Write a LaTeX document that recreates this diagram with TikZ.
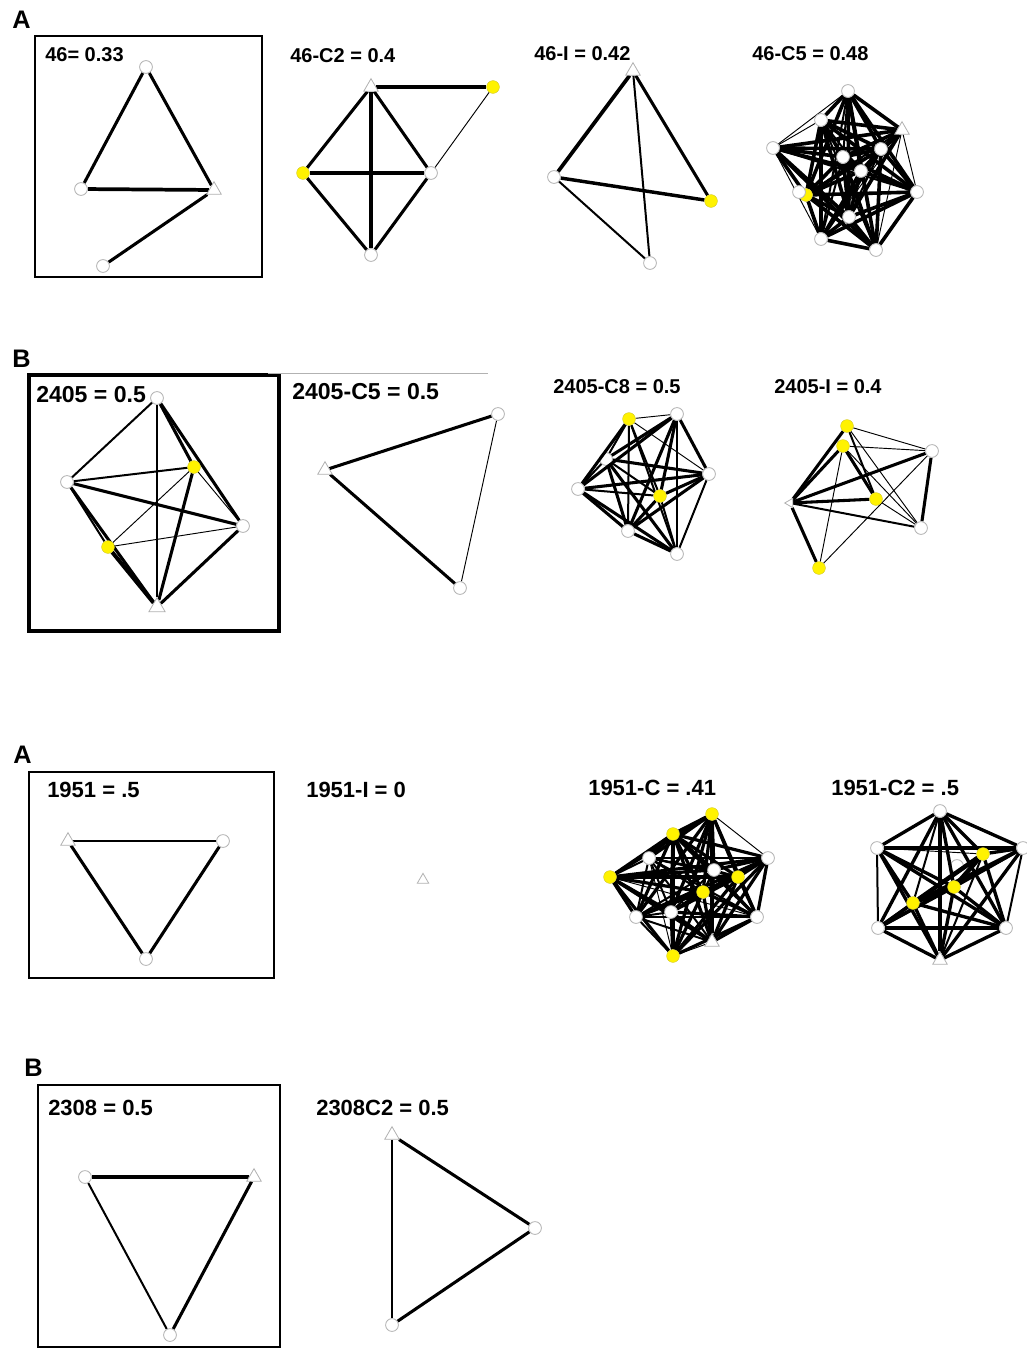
\documentclass[tikz,border=0pt]{standalone}
\usepackage{fontspec}
\setmainfont{Liberation Sans}
\usetikzlibrary{shapes.geometric}
\pgfdeclarelayer{bg}
\pgfsetlayers{bg,main}
\newcommand\setw[3]{\foreach \p in {#2}{\expandafter\xdef\csname ew-#1-\p\endcsname{#3}}}
\newcommand\fullgraph[4]{%
 \foreach \i in {1,...,#2}{\foreach \j in {1,...,#2}{%
  \ifnum\i<\j\relax
   \ifcsname ew-#1-\i-\j\endcsname
     \edef\ww{\csname ew-#1-\i-\j\endcsname}%
   \else
     \pgfmathtruncatemacro\m{mod(\i*7+\j*3,#3)}%
     \ifnum\m=0 \def\ww{1.5}\else\def\ww{#4}\fi
   \fi
   \draw[line width=\ww pt] (#1\i) -- (#1\j);
  \fi}}}
\begin{document}
\begin{tikzpicture}[x=0.75pt,y=-0.75pt,
 wn/.style={circle,draw=gray!60,fill=white,line width=0.6pt,minimum size=9.6pt,inner sep=0pt},
 yn/.style={circle,draw=yellow!80!black,fill=yellow,line width=0.3pt,minimum size=9.6pt,inner sep=0pt},
 tn/.style={regular polygon,regular polygon sides=3,draw=gray!60,fill=white,line width=0.6pt,minimum size=12.5pt,inner sep=0pt},
 ek/.style={line width=2.3pt},
 em/.style={line width=1.5pt},
 en/.style={line width=0.7pt},
 lab/.style={anchor=base west,inner sep=0pt,font=\fontsize{15}{18}\selectfont\bfseries},
 labM/.style={anchor=base west,inner sep=0pt,font=\fontsize{16.5}{19}\selectfont\bfseries},
 labL/.style={anchor=base west,inner sep=0pt,font=\fontsize{17.3}{20}\selectfont\bfseries},
 plet/.style={anchor=base west,inner sep=0pt,font=\fontsize{19}{22}\selectfont\bfseries},
 frame/.style={line width=1.5pt}]
\begin{pgfonlayer}{bg}
\fill[white] (0,0) rectangle (1026,1349);
\end{pgfonlayer}
\useasboundingbox (0,0) rectangle (1026,1349);

% panel letters
\node[plet] (LA1) at (12,28) {A};
\node[plet] (LB1) at (12,367) {B};
\node[plet] (LA2) at (13,763) {A};
\node[plet] (LB2) at (24,1076) {B};

% ---------- 46 = 0.33
\draw[frame] (35,36) rectangle (262,277);
\node[lab] (L1) at (45,61) {46= 0.33};
\node[wn] (a1) at (146,67) {};
\node[wn] (a2) at (81,189) {};
\node[tn] (a3) at (214,190) {};
\node[wn] (a4) at (103,266) {};
\begin{pgfonlayer}{bg}
\draw[ek] (a1) -- (a2);
\draw[ek] (a1) -- (a3);
\draw[line width=2.8pt] (a2) -- (a3);
\draw[ek] (a3) -- (a4);
\end{pgfonlayer}

% ---------- 46-C2 = 0.4
\node[lab] (L2) at (290,62) {46-C2 = 0.4};
\node[tn] (b1) at (371,87) {};
\node[yn] (b2) at (493,87) {};
\node[yn] (b3) at (303,173) {};
\node[wn] (b4) at (431,173) {};
\node[wn] (b5) at (371,255) {};
\begin{pgfonlayer}{bg}
\draw[ek] (b1) -- (b2);
\draw[en] (b2) -- (b4);
\draw[ek] (b1) -- (b3);
\draw[ek] (b1) -- (b4);
\draw[ek] (b1) -- (b5);
\draw[ek] (b3) -- (b4);
\draw[ek] (b3) -- (b5);
\draw[ek] (b4) -- (b5);
\end{pgfonlayer}

% ---------- 46-I = 0.42
\node[lab] (L3) at (534,60) {46-I = 0.42};
\node[tn] (g1) at (633,71) {};
\node[wn] (g2) at (554,177) {};
\node[yn] (g3) at (711,201) {};
\node[wn] (g4) at (650,263) {};
\begin{pgfonlayer}{bg}
\draw[line width=2.8pt] (g1) -- (g2);
\draw[ek] (g1) -- (g3);
\draw[em] (g1) -- (g4);
\draw[line width=2.6pt] (g2) -- (g3);
\draw[em] (g2) -- (g4);
\end{pgfonlayer}

% ---------- 46-C5 = 0.48
\node[lab] (L4) at (752,60) {46-C5 = 0.48};
\node[wn] (d1) at (848,91) {};
\node[wn] (d2) at (821,120) {};
\node[tn] (d3) at (902,130) {};
\node[wn] (d4) at (773,148) {};
\node[wn] (d5) at (881,149) {};
\node[wn] (d6) at (843,157) {};
\node[wn] (d7) at (861,171) {};
\node[yn] (d8) at (806,195) {};
\node[wn] (d9) at (917,192) {};
\node[wn] (d10) at (849,217) {};
\node[wn] (d11) at (821,239) {};
\node[wn] (d12) at (876,250) {};
\node[wn] (d13) at (799,192) {};
\setw{d}{1-4,2-4,4-11,3-9,3-12,3-11}{0.7}
\begin{pgfonlayer}{bg}
\fullgraph{d}{12}{5}{2.7}
\end{pgfonlayer}

% ---------- 2405 = 0.5
\draw[line width=2.3pt] (29,375) rectangle (279,631);
\node[labL] (L5) at (36,402) {2405 = 0.5};
\node[wn] (e1) at (157,398) {};
\node[wn] (e2) at (67,482) {};
\node[yn] (e3) at (194,467) {};
\node[wn] (e4) at (243,526) {};
\node[yn] (e5) at (108,547) {};
\node[tn,minimum size=14pt] (e6) at (157,607) {};
\begin{pgfonlayer}{bg}
\draw[em] (e1) -- (e2);
\draw[em] (e1) -- (e6);
\draw[ek] (e1) -- (e3);
\draw[ek] (e1) -- (e4);
\draw[em] (e2) -- (e3);
\draw[ek] (e2) -- (e4);
\draw[ek] (e2) -- (e6);
\draw[em] (e2) -- (e5);
\draw[line width=3pt] (e5) -- (e6);
\draw[en] (e3) -- (e5);
\draw[en] (e5) -- (e4);
\draw[ek] (e3) -- (e6);
\draw[ek] (e4) -- (e6);
\draw[en] (e3) -- (e4);
\end{pgfonlayer}

% ---------- 2405-C5 = 0.5
\draw[gray!60,line width=0.6pt] (268,373) -- (488,373);
\node[labL] (L6) at (292,399) {2405-C5 = 0.5};
\node[tn] (f1) at (325,470) {};
\node[wn] (f2) at (498,414) {};
\node[wn] (f3) at (460,588) {};
\begin{pgfonlayer}{bg}
\draw[ek] (f1) -- (f2);
\draw[ek] (f1) -- (f3);
\draw[en] (f2) -- (f3);
\end{pgfonlayer}

% ---------- 2405-C8 = 0.5
\node[lab] (L7) at (553,393) {2405-C8 = 0.5};
\node[yn] (h1) at (629,419) {};
\node[wn] (h2) at (677,414) {};
\node[wn] (h4) at (709,474) {};
\node[wn] (h5) at (578,489) {};
\node[yn] (h6) at (660,496) {};
\node[wn] (h7) at (628,531) {};
\node[wn] (h8) at (677,554) {};
\setw{h}{1-2,1-4}{0.7}
\setw{h}{1-3,1-6,1-7,1-8,2-8,3-5,3-6,4-8,6-8,5-6}{1.5}
\begin{pgfonlayer}{bg}
\node[wn] (h3) at (606,459) {};
\fullgraph{h}{8}{100}{2.3}
\end{pgfonlayer}

% ---------- 2405-I = 0.4
\node[lab] (L8) at (774,393) {2405-I = 0.4};
\node[yn] (i1) at (847,426) {};
\node[yn] (i2) at (843,446) {};
\node[wn] (i3) at (932,451) {};
\node[tn,minimum size=8pt,shape border rotate=90] (i4) at (790,503) {};
\node[yn] (i5) at (876,499) {};
\node[wn] (i6) at (921,528) {};
\node[yn] (i7) at (819,568) {};
\begin{pgfonlayer}{bg}
\draw[ek] (i4) -- (i1);
\draw[ek] (i4) -- (i2);
\draw[ek] (i4) -- (i3);
\draw[ek] (i4) -- (i5);
\draw[ek] (i4) -- (i7);
\draw[ek] (i2) -- (i5);
\draw[ek] (i3) -- (i6);
\draw[em] (i4) -- (i6);
\draw[em] (i1) -- (i5);
\draw[en] (i1) -- (i3);
\draw[en] (i1) -- (i6);
\draw[en] (i2) -- (i3);
\draw[en] (i2) -- (i6);
\draw[en] (i2) -- (i7);
\draw[en] (i7) -- (i3);
\draw[en] (i5) -- (i6);
\end{pgfonlayer}

% ---------- 1951 = .5
\draw[frame] (29,772) rectangle (274,978);
\node[labM] (L9) at (47,797) {1951 = .5};
\node[tn] (j1) at (68,841) {};
\node[wn] (j2) at (223,841) {};
\node[wn] (j3) at (146,959) {};
\begin{pgfonlayer}{bg}
\draw[line width=1.8pt] (j1) -- (j2);
\draw[ek] (j1) -- (j3);
\draw[ek] (j2) -- (j3);
\end{pgfonlayer}

% ---------- 1951-I = 0
\node[labM] (L10) at (306,797) {1951-I = 0};
\node[tn,minimum size=10pt] (n1) at (423,880) {};

% ---------- 1951-C = .41
\node[labM] (L11) at (588,795) {1951-C = .41};
\node[yn] (k1) at (712,814) {};
\node[yn] (k2) at (673,834) {};
\node[wn] (k3) at (649,858) {};
\node[wn] (k4) at (768,858) {};
\node[yn] (k5) at (610,877) {};
\node[wn] (k6) at (714,870) {};
\node[yn] (k7) at (738,877) {};
\node[yn] (k8) at (703,892) {};
\node[wn] (k9) at (636,917) {};
\node[wn] (k10) at (671,912) {};
\node[wn] (k11) at (757,917) {};
\node[tn] (k12) at (712,942) {};
\node[yn] (k13) at (673,956) {};
\setw{k}{1-4,12-13,5-11,4-10,3-13}{0.7}
\begin{pgfonlayer}{bg}
\fullgraph{k}{13}{3}{2.4}
\end{pgfonlayer}

% ---------- 1951-C2 = .5
\node[labM] (L12) at (831,795) {1951-C2 = .5};
\node[wn] (m1) at (940,811) {};
\node[wn] (m2) at (877,848) {};
\node[wn] (m3) at (1023,848) {};
\node[yn] (m4) at (983,854) {};
\node[yn] (m5) at (954,887) {};
\node[yn] (m6) at (913,903) {};
\node[wn] (m7) at (878,928) {};
\node[wn] (m8) at (1006,928) {};
\node[tn] (m9) at (940,960) {};
\setw{m}{2-4}{0.7}
\setw{m}{4-5,5-6,4-6}{3.4}
\begin{pgfonlayer}{bg}
\node[wn] (m10) at (957,866) {};
\fullgraph{m}{9}{5}{2.5}
\end{pgfonlayer}

% ---------- 2308 = 0.5
\draw[frame] (38,1085) rectangle (280,1347);
\node[labM] (L13) at (48,1115) {2308 = 0.5};
\node[wn] (p1) at (85,1177) {};
\node[tn] (p2) at (254,1177) {};
\node[wn] (p3) at (170,1335) {};
\begin{pgfonlayer}{bg}
\draw[ek] (p1) -- (p2);
\draw[em] (p1) -- (p3);
\draw[ek] (p2) -- (p3);
\end{pgfonlayer}

% ---------- 2308C2 = 0.5
\node[labM] (L14) at (316,1115) {2308C2 = 0.5};
\node[tn] (q1) at (392,1135) {};
\node[wn] (q2) at (535,1228) {};
\node[wn] (q3) at (392,1325) {};
\begin{pgfonlayer}{bg}
\draw[ek] (q1) -- (q2);
\draw[em] (q1) -- (q3);
\draw[ek] (q2) -- (q3);
\end{pgfonlayer}
\end{tikzpicture}
\end{document}
